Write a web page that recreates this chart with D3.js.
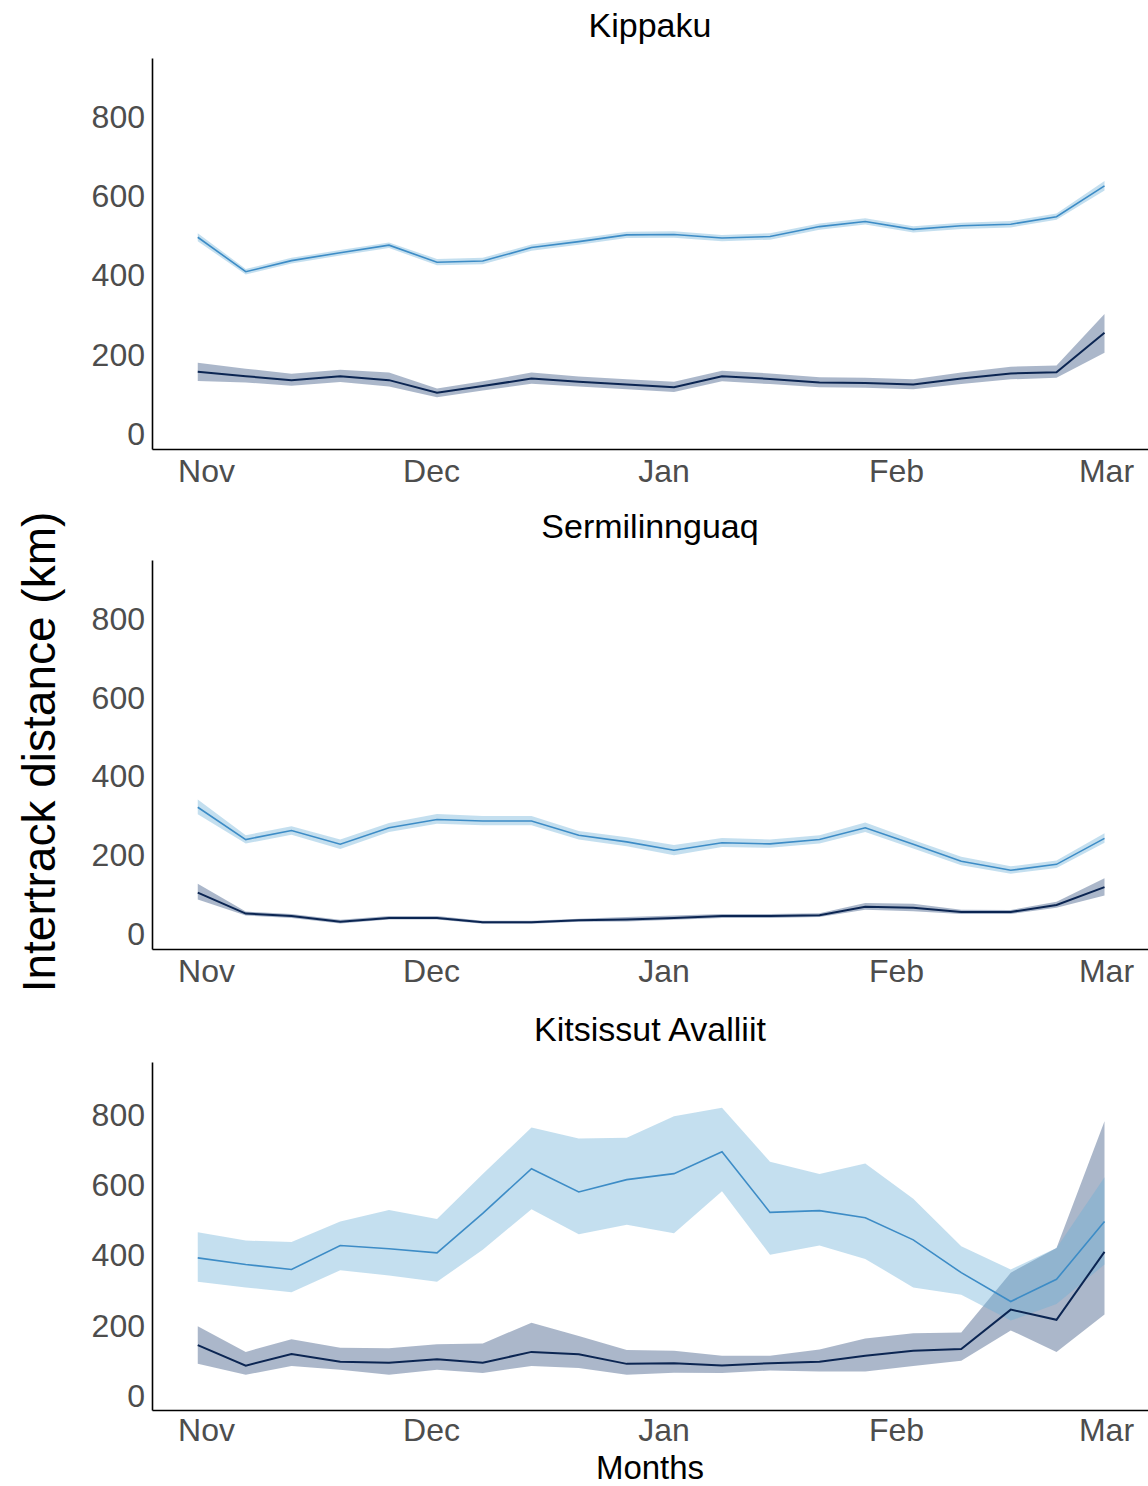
<!DOCTYPE html>
<html>
<head>
<meta charset="utf-8">
<script src="https://cdn.jsdelivr.net/npm/d3@7"></script>
<style>
  html, body { margin: 0; padding: 0; background: #fff; }
  svg { display: block; font-family: "Liberation Sans", Arial, sans-serif; }
</style>
</head>
<body>
<svg id="chart" width="1148" height="1486"></svg>
<script>
// ---- data ----
const monthLabels = ["Nov", "Dec", "Jan", "Feb", "Mar"];
const monthDays = [0, 30, 61, 92, 120];           // days since 1 Nov
const yTicks = [0, 200, 400, 600, 800];
const sampleDays = [-1.1, 5.3, 11.4, 17.9, 24.4, 30.8, 36.9, 43.4, 49.7, 56.1,
                    62.4, 68.8, 75.2, 81.8, 87.9, 94.3, 100.7, 107.3, 113.4, 119.8];
const panelTitles = ["Kippaku", "Sermilinnguaq", "Kitsissut Avalliit"];

// Kippaku
const kipLight   = [497, 410, 438, 458, 477, 434, 437, 471, 486, 503, 504, 495, 499, 524, 537, 517, 526, 530, 549, 627];
const kipLightLo = [487, 403, 431, 451, 470, 426, 429, 463, 478, 495, 496, 487, 491, 516, 529, 509, 518, 522, 541, 615];
const kipLightHi = [507, 417, 445, 465, 484, 442, 445, 479, 494, 511, 512, 503, 507, 532, 545, 525, 534, 538, 557, 639];
const kipDark    = [157, 146, 136, 146, 136, 104, 121, 140, 132, 125, 118, 146, 139, 130, 129, 125, 140, 153, 156, 256];
const kipDarkLo  = [134, 130, 122, 131, 120, 93, 110, 127, 120, 113, 106, 133, 126, 118, 117, 113, 126, 138, 142, 205];
const kipDarkHi  = [180, 165, 152, 162, 155, 115, 133, 155, 145, 138, 132, 160, 153, 143, 142, 138, 155, 170, 173, 303];

// Sermilinnguaq
const serLight   = [322, 240, 263, 228, 270, 291, 287, 287, 251, 234, 213, 232, 229, 240, 270, 228, 185, 162, 177, 243];
const serLightLo = [304, 230, 252, 216, 259, 280, 276, 276, 240, 223, 200, 221, 219, 230, 259, 217, 175, 153, 168, 232];
const serLightHi = [342, 251, 274, 240, 282, 305, 300, 300, 262, 246, 226, 244, 240, 251, 283, 239, 196, 172, 187, 256];
const serDark    = [105, 52, 46, 31, 41, 41, 30, 30, 35, 37, 41, 46, 46, 48, 69, 67, 56, 56, 74, 119];
const serDarkLo  = [88, 47, 41, 27, 37, 37, 26, 26, 31, 32, 36, 41, 41, 43, 62, 58, 51, 51, 67, 98];
const serDarkHi  = [128, 57, 51, 36, 46, 46, 34, 34, 39, 43, 47, 51, 51, 53, 79, 77, 62, 61, 82, 142];

// Kitsissut Avalliit
const kitLight   = [394, 375, 361, 429, 420, 408, 520, 647, 581, 616, 633, 695, 523, 528, 508, 445, 352, 270, 333, 497];
const kitLightLo = [326, 310, 296, 359, 344, 326, 417, 532, 461, 488, 464, 583, 403, 429, 391, 310, 289, 216, 263, 375];
const kitLightHi = [467, 443, 439, 497, 530, 504, 632, 764, 733, 735, 796, 820, 667, 632, 662, 562, 427, 361, 422, 623];
const kitDark    = [146, 88, 121, 99, 96, 106, 96, 127, 120, 93, 95, 88, 95, 99, 116, 130, 135, 247, 218, 411];
const kitDarkLo  = [93, 62, 87, 76, 62, 76, 67, 87, 81, 62, 68, 67, 74, 71, 71, 87, 102, 188, 127, 233];
const kitDarkHi  = [200, 127, 163, 139, 137, 149, 151, 210, 172, 132, 130, 116, 116, 134, 165, 180, 182, 352, 422, 782];

const panelSeries = [
  { light: kipLight, lightLo: kipLightLo, lightHi: kipLightHi, dark: kipDark, darkLo: kipDarkLo, darkHi: kipDarkHi },
  { light: serLight, lightLo: serLightLo, lightHi: serLightHi, dark: serDark, darkLo: serDarkLo, darkHi: serDarkHi },
  { light: kitLight, lightLo: kitLightLo, lightHi: kitLightHi, dark: kitDark, darkLo: kitDarkLo, darkHi: kitDarkHi }
];

// ---- layout ----
const svg = d3.select("#chart");
const left = 152, right = 1148;
const panelBox = [
  { top: 58, bottom: 449, titleY: 37, pad: 10 },
  { top: 560, bottom: 949, titleY: 538, pad: 10 },
  { top: 1062, bottom: 1410, titleY: 1041, pad: 8 }
];

const x = d3.scaleLinear().domain([-7.2, 125.6]).range([left, right]);

const colors = {
  lightLine: "#3d8cc6", lightBand: "#6baed6",
  darkLine: "#0b2552", darkBand: "#2c4a7a"
};

panelBox.forEach((box, p) => {
  const s = panelSeries[p];
  const y = d3.scaleLinear().domain([-38, 950]).range([box.bottom, box.top]);
  const g = svg.append("g");

  const rows = sampleDays.map((d, i) => ({
    d, light: s.light[i], lightLo: s.lightLo[i], lightHi: s.lightHi[i],
    dark: s.dark[i], darkLo: s.darkLo[i], darkHi: s.darkHi[i]
  }));

  const areaDark = d3.area().x(r => x(r.d)).y0(r => y(r.darkLo)).y1(r => y(r.darkHi));
  const areaLight = d3.area().x(r => x(r.d)).y0(r => y(r.lightLo)).y1(r => y(r.lightHi));
  const lineDark = d3.line().x(r => x(r.d)).y(r => y(r.dark));
  const lineLight = d3.line().x(r => x(r.d)).y(r => y(r.light));

  g.append("path").datum(rows).attr("d", areaDark)
    .attr("fill", colors.darkBand).attr("fill-opacity", 0.4);
  g.append("path").datum(rows).attr("d", areaLight)
    .attr("fill", colors.lightBand).attr("fill-opacity", 0.4);
  g.append("path").datum(rows).attr("d", lineDark)
    .attr("fill", "none").attr("stroke", colors.darkLine).attr("stroke-width", 2);
  g.append("path").datum(rows).attr("d", lineLight)
    .attr("fill", "none").attr("stroke", colors.lightLine).attr("stroke-width", 1.6);

  // y axis
  const yAxis = d3.axisLeft(y).tickValues(yTicks).tickSizeInner(0).tickSizeOuter(0).tickPadding(7);
  const ya = g.append("g").attr("transform", `translate(${left},0)`).call(yAxis);
  // x axis
  const xAxis = d3.axisBottom(x).tickValues(monthDays).tickFormat((d, i) => monthLabels[i])
    .tickSizeInner(0).tickSizeOuter(0).tickPadding(box.pad);
  const xa = g.append("g").attr("transform", `translate(0,${box.bottom})`).call(xAxis);

  [ya, xa].forEach(a => {
    a.select(".domain").attr("stroke", "#000").attr("stroke-width", 1.6);
    a.selectAll("text").attr("font-size", 32).attr("fill", "#4d4d4d")
      .attr("font-family", '"Liberation Sans", Arial, sans-serif');
  });

  g.append("text").attr("x", (left + right) / 2).attr("y", box.titleY)
    .attr("text-anchor", "middle").attr("font-size", 34).attr("fill", "#000")
    .text(panelTitles[p]);
});

svg.append("text")
  .attr("transform", "translate(55,752) rotate(-90)")
  .attr("text-anchor", "middle").attr("font-size", 46).attr("fill", "#000")
  .text("Intertrack distance (km)");

svg.append("text").attr("x", 650).attr("y", 1479)
  .attr("text-anchor", "middle").attr("font-size", 33).attr("fill", "#000")
  .text("Months");
</script>
</body>
</html>
